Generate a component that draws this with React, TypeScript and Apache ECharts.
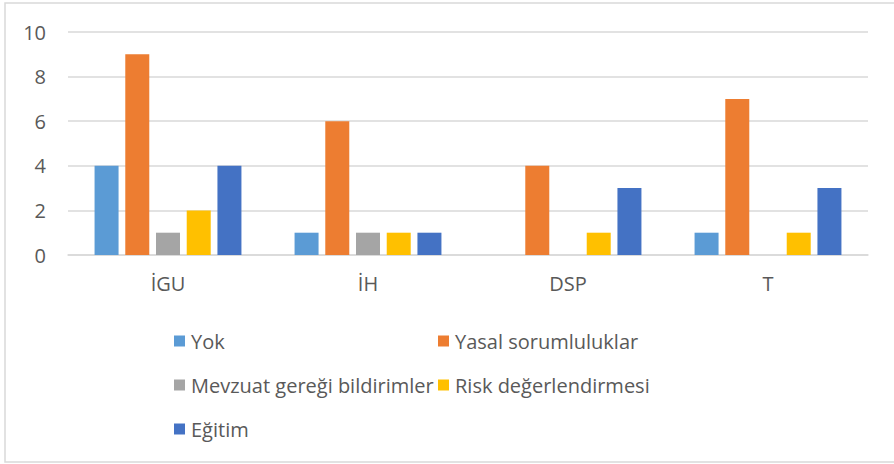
import { useEffect, useRef } from "react";
import * as echarts from "echarts";

const categories = ["İGU", "İH", "DSP", "T"];
const seriesNames = [
  "Yok",
  "Yasal sorumluluklar",
  "Mevzuat gereği bildirimler",
  "Risk değerlendirmesi",
  "Eğitim",
];
const yok = [4, 1, 0, 1];
const yasal = [9, 6, 4, 7];
const mevzuat = [1, 1, 0, 0];
const risk = [2, 1, 1, 1];
const egitim = [4, 1, 3, 3];
const seriesValues = [yok, yasal, mevzuat, risk, egitim];
const colors = ["#5b9bd5", "#ed7d31", "#a5a5a5", "#ffc000", "#4472c4"];
const yTicks = { min: 0, max: 10, interval: 2 };

const FONT = "'Open Sans', 'Liberation Sans', sans-serif";
const TEXT_COLOR = "#595959";

export default function App() {
  const ref = useRef<HTMLDivElement>(null);

  useEffect(() => {
    if (!ref.current) return;
    const chart = echarts.init(ref.current, undefined, { renderer: "svg" });

    const legendPos = [
      { left: 174, center: 341 },
      { left: 438, center: 341 },
      { left: 174, center: 385 },
      { left: 438, center: 385 },
      { left: 174, center: 429 },
    ];

    chart.setOption({
      animation: false,
      backgroundColor: "#ffffff",
      textStyle: { fontFamily: FONT },
      graphic: [
        {
          type: "rect",
          shape: { x: 5, y: 3, width: 900, height: 459 },
          style: { fill: "none", stroke: "#d9d9d9", lineWidth: 1.5 },
          silent: true,
          z: -10,
        },
      ],
      grid: { left: 68, right: 26, top: 32, bottom: 209, containLabel: false },
      legend: seriesNames.map((name, i) => ({
        data: [name],
        left: legendPos[i].left,
        top: legendPos[i].center - 12,
        padding: 0,
        itemWidth: 11,
        itemHeight: 11,
        icon: "rect",
        selectedMode: false,
        textStyle: {
          fontFamily: FONT,
          fontSize: 20,
          color: TEXT_COLOR,
          lineHeight: 24,
          padding: [0, 0, 0, 1],
        },
      })),
      xAxis: {
        type: "category",
        data: categories,
        axisLine: { show: true, lineStyle: { color: "#d9d9d9", width: 1.5 } },
        axisTick: { show: false },
        axisLabel: {
          fontFamily: FONT,
          fontSize: 20,
          color: TEXT_COLOR,
          margin: 18,
        },
      },
      yAxis: {
        type: "value",
        min: yTicks.min,
        max: yTicks.max,
        interval: yTicks.interval,
        axisLine: { show: false },
        axisTick: { show: false },
        splitLine: { lineStyle: { color: "#d9d9d9", width: 1.5 } },
        axisLabel: {
          fontFamily: FONT,
          fontSize: 20,
          color: TEXT_COLOR,
          margin: 22,
        },
      },
      series: seriesNames.map((name, i) => ({
        name,
        type: "bar",
        data: seriesValues[i],
        barWidth: 24,
        barGap: "28%",
        itemStyle: { color: colors[i] },
      })),
    });

    return () => chart.dispose();
  }, []);

  return (
    <div
      ref={ref}
      style={{ position: "fixed", left: 0, top: 0, width: 894, height: 464 }}
    />
  );
}
